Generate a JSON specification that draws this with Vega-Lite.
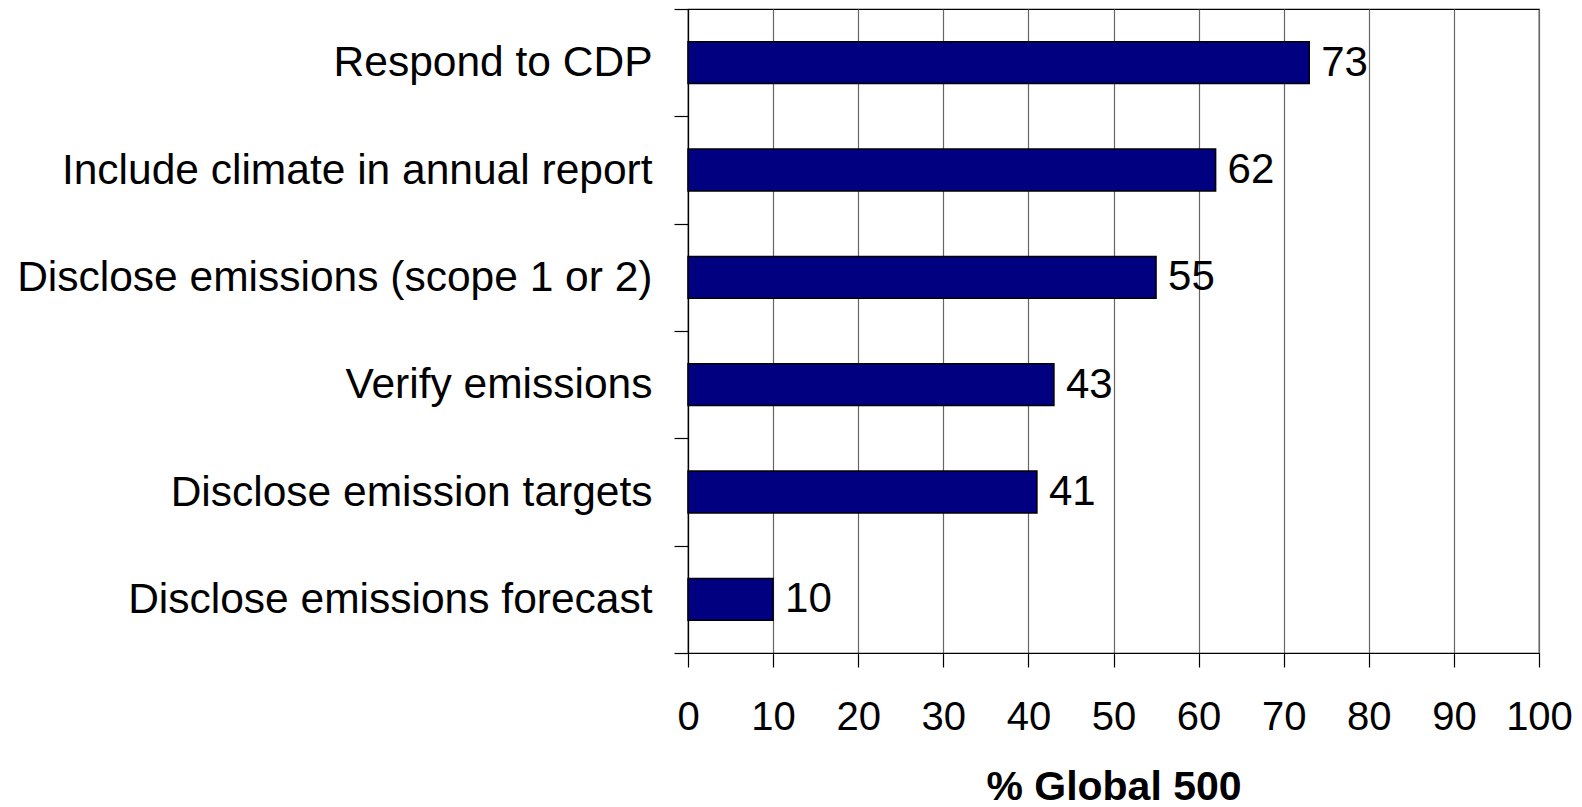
{
  "$schema": "https://vega.github.io/schema/vega-lite/v6.json",
  "autosize": {"type": "none"},
  "padding": {"left": 688, "top": 9, "right": 43, "bottom": 154},
  "width": 851,
  "height": 644,
  "background": "white",
  "config": {
    "font": "Liberation Sans",
    "view": {"stroke": "black", "strokeWidth": 1.2},
    "axis": {"labelFont": "Liberation Sans", "titleFont": "Liberation Sans", "labelColor": "black", "titleColor": "black"}
  },
  "data": {
    "values": [
      {"item": "Respond to CDP", "pct": 73},
      {"item": "Include climate in annual report", "pct": 62},
      {"item": "Disclose emissions (scope 1 or 2)", "pct": 55},
      {"item": "Verify emissions", "pct": 43},
      {"item": "Disclose emission targets", "pct": 41},
      {"item": "Disclose emissions forecast", "pct": 10}
    ]
  },
  "encoding": {
    "y": {
      "field": "item",
      "type": "nominal",
      "sort": null,
      "scale": {"paddingInner": 0, "paddingOuter": 0},
      "axis": {
        "title": null,
        "tickBand": "extent",
        "tickSize": 14,
        "tickColor": "black",
        "tickWidth": 1.2,
        "domainColor": "black",
        "domainWidth": 1.2,
        "grid": false,
        "labelFontSize": 42.5,
        "labelPadding": 22,
        "labelLimit": 700,
        "labelBaseline": "middle"
      }
    },
    "x": {
      "field": "pct",
      "type": "quantitative",
      "scale": {"domain": [0, 100], "nice": false},
      "axis": {
        "title": "% Global 500",
        "values": [0, 10, 20, 30, 40, 50, 60, 70, 80, 90, 100],
        "tickSize": 14,
        "tickColor": "black",
        "tickWidth": 1.2,
        "domainColor": "black",
        "domainWidth": 1.2,
        "grid": true,
        "gridColor": "#666666",
        "gridWidth": 1.2,
        "gridOpacity": 1,
        "labelFontSize": 40,
        "labelBaseline": "alphabetic",
        "labelPadding": 62,
        "labelFlush": false,
        "titleFontSize": 41,
        "titleFontWeight": "bold",
        "titleBaseline": "alphabetic",
        "titleY": 146
      }
    }
  },
  "layer": [
    {
      "mark": {"type": "bar", "fill": "#000080", "stroke": "black", "strokeWidth": 1.5, "height": {"band": 0.39}}
    },
    {
      "mark": {"type": "text", "align": "left", "baseline": "middle", "dx": 12, "fontSize": 42, "color": "black"},
      "encoding": {"text": {"field": "pct", "type": "quantitative"}}
    }
  ]
}
